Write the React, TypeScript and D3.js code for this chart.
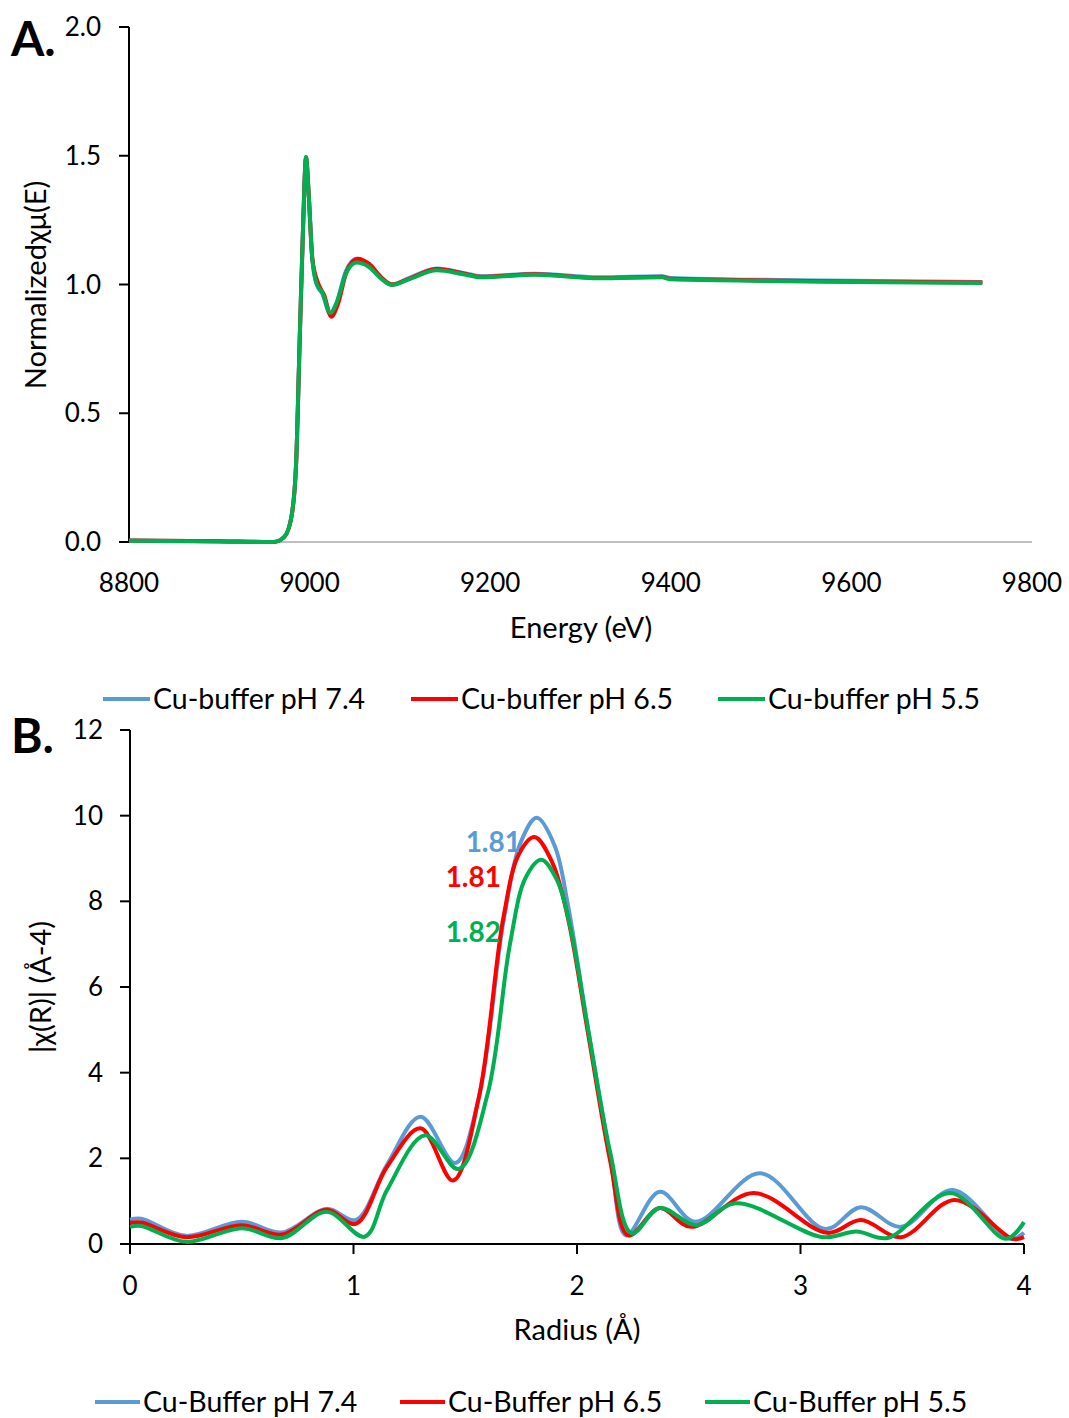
import React from "react";
import * as d3 from "d3";

const FONT = "Lato, 'Open Sans', sans-serif";

// Panel A: XANES (energy eV, normalized value)
const xanesBlue: [number, number][] = [
  [8800, 0.006], [8900, 0.003], [8960, 0.0], [8972, 0.02], [8980, 0.1], [8985, 0.3], [8989, 0.78],
  [8993, 1.25], [8996, 1.495], [8999, 1.35], [9003, 1.1], [9008, 1.0], [9014, 0.965], [9023, 0.885],
  [9030, 0.93], [9040, 1.05], [9052, 1.1], [9065, 1.08], [9080, 1.025], [9091, 1.0], [9110, 1.025],
  [9141, 1.062], [9170, 1.045], [9190, 1.032], [9250, 1.042], [9320, 1.028], [9390, 1.032], [9400, 1.025],
  [9500, 1.018], [9600, 1.015], [9745, 1.01],
];
const xanesRed: [number, number][] = [
  [8800, 0.006], [8900, 0.003], [8960, 0.0], [8972, 0.02], [8980, 0.1], [8985, 0.3], [8989, 0.78],
  [8993, 1.25], [8996, 1.49], [8999, 1.35], [9003, 1.1], [9010, 1.0], [9016, 0.96], [9024, 0.875],
  [9031, 0.92], [9041, 1.05], [9053, 1.1], [9066, 1.08], [9080, 1.025], [9091, 1.0], [9110, 1.022],
  [9141, 1.06], [9170, 1.043], [9190, 1.03], [9250, 1.04], [9320, 1.025], [9390, 1.03], [9400, 1.022],
  [9500, 1.016], [9600, 1.012], [9745, 1.008],
];
const xanesGreen: [number, number][] = [
  [8800, 0.005], [8900, 0.002], [8960, 0.0], [8972, 0.02], [8980, 0.1], [8985, 0.3], [8989, 0.78],
  [8993, 1.25], [8996, 1.495], [8999, 1.35], [9003, 1.1], [9008, 1.0], [9014, 0.97], [9023, 0.89],
  [9030, 0.93], [9040, 1.04], [9052, 1.085], [9065, 1.07], [9080, 1.02], [9091, 0.998], [9110, 1.02],
  [9141, 1.055], [9170, 1.04], [9190, 1.028], [9250, 1.038], [9320, 1.024], [9390, 1.028], [9400, 1.02],
  [9500, 1.014], [9600, 1.01], [9745, 1.006],
];

// Panel B: FT magnitude (radius Å, |χ(R)|)
const ftBlue: [number, number][] = [
  [0, 0.57], [0.05, 0.59], [0.25, 0.19], [0.5, 0.52], [0.68, 0.27], [0.88, 0.82], [1.01, 0.56],
  [1.15, 1.85], [1.3, 2.97], [1.455, 1.89], [1.56, 3.4], [1.67, 7.5], [1.75, 9.4], [1.82, 9.95],
  [1.9, 9.3], [1.96, 7.9], [2.05, 5.0], [2.15, 2.0], [2.22, 0.2], [2.37, 1.22], [2.53, 0.52],
  [2.82, 1.65], [3.11, 0.35], [3.27, 0.86], [3.45, 0.4], [3.68, 1.26], [3.94, 0.12], [4.0, 0.26],
];
const ftRed: [number, number][] = [
  [0, 0.49], [0.05, 0.5], [0.25, 0.16], [0.5, 0.44], [0.68, 0.22], [0.88, 0.8], [1.01, 0.47],
  [1.15, 1.8], [1.3, 2.7], [1.445, 1.48], [1.56, 3.4], [1.67, 7.6], [1.74, 9.1], [1.81, 9.5],
  [1.89, 8.9], [1.96, 7.6], [2.05, 4.9], [2.15, 1.9], [2.23, 0.2], [2.37, 0.84], [2.51, 0.4],
  [2.79, 1.19], [3.12, 0.26], [3.27, 0.56], [3.45, 0.16], [3.69, 1.03], [3.95, 0.12], [4.0, 0.16],
];
const ftGreen: [number, number][] = [
  [0, 0.4], [0.05, 0.42], [0.25, 0.05], [0.5, 0.37], [0.68, 0.14], [0.88, 0.75], [1.05, 0.17],
  [1.15, 1.26], [1.32, 2.54], [1.47, 1.75], [1.6, 3.5], [1.7, 7.0], [1.77, 8.55], [1.84, 8.97],
  [1.91, 8.5], [1.97, 7.4], [2.05, 5.0], [2.15, 2.1], [2.245, 0.25], [2.37, 0.84], [2.535, 0.44], [2.71, 0.95],
  [3.1, 0.16], [3.25, 0.29], [3.39, 0.14], [3.67, 1.19], [3.92, 0.12], [4.0, 0.51],
];

const xTicksA = [8800, 9000, 9200, 9400, 9600, 9800];
const yTicksA = [0, 0.5, 1.0, 1.5, 2.0];
const xTicksB = [0, 1, 2, 3, 4];
const yTicksB = [0, 2, 4, 6, 8, 10, 12];

const colors = ["#5b9bd5", "#ff0000", "#00b050"];
const legendA = ["Cu-buffer pH 7.4", "Cu-buffer pH 6.5", "Cu-buffer pH 5.5"];
const legendB = ["Cu-Buffer pH 7.4", "Cu-Buffer pH 6.5", "Cu-Buffer pH 5.5"];
const peakLabels = ["1.81", "1.81", "1.82"];

export default function App() {
  const xA = d3.scaleLinear().domain([8800, 9800]).range([129, 1032]);
  const yA = d3.scaleLinear().domain([0, 2]).range([542, 27]);
  const xB = d3.scaleLinear().domain([0, 4]).range([130, 1024]);
  const yB = d3.scaleLinear().domain([0, 12]).range([1244, 730]);

  const lineA = d3.line<[number, number]>().x((d) => xA(d[0])).y((d) => yA(d[1])).curve(d3.curveMonotoneX);
  const lineB = d3.line<[number, number]>().x((d) => xB(d[0])).y((d) => yB(d[1])).curve(d3.curveCatmullRom.alpha(0.5));

  const seriesA = [xanesBlue, xanesRed, xanesGreen];
  const seriesB = [ftBlue, ftRed, ftGreen];

  const legAPos = [103, 411, 718];
  const legBPos = [95, 400, 705];
  const labelPos: [number, number][] = [
    [521, 852],
    [501, 887],
    [501, 942],
  ];

  const tickFs = 26;
  const titleFs = 29;
  const legFs = 28.5;

  return (
    <svg width={1069} height={1418} style={{ position: "absolute", left: 0, top: 0, background: "#fff" }} fontFamily={FONT}>
      <rect width={1069} height={1418} fill="#fff" />
      {/* Panel A */}
      <text x={11} y={56} fontSize={48} fontWeight="bold" fill="#000">A.</text>
      <line x1={xA(8800)} x2={xA(9800)} y1={yA(0)} y2={yA(0)} stroke="#bfbfbf" strokeWidth={2} />
      <line x1={xA(8800)} x2={xA(8800)} y1={yA(0)} y2={yA(2)} stroke="#000" strokeWidth={2} />
      {yTicksA.map((t) => (
        <g key={"ya" + t}>
          <line x1={xA(8800) - 10} x2={xA(8800)} y1={yA(t)} y2={yA(t)} stroke="#000" strokeWidth={2} />
          <text x={101} y={yA(t) + 9} fontSize={tickFs} textAnchor="end" fill="#000">{t.toFixed(1)}</text>
        </g>
      ))}
      {xTicksA.map((t) => (
        <text key={"xa" + t} x={xA(t)} y={592} fontSize={tickFs} textAnchor="middle" fill="#000">{t}</text>
      ))}
      <text x={581} y={638} fontSize={titleFs} textAnchor="middle" fill="#000">Energy (eV)</text>
      <text transform="translate(46,285) rotate(-90)" fontSize={titleFs} textAnchor="middle" fill="#000">Normalizedχμ(E)</text>
      {seriesA.map((s, i) => (
        <path key={"sa" + i} d={lineA(s) || ""} fill="none" stroke={colors[i]} strokeWidth={4} strokeLinejoin="round" />
      ))}
      {legendA.map((l, i) => (
        <g key={"la" + i}>
          <line x1={legAPos[i]} x2={legAPos[i] + 47} y1={699} y2={699} stroke={colors[i]} strokeWidth={4} />
          <text x={legAPos[i] + 50} y={709} fontSize={legFs} fill="#000">{l}</text>
        </g>
      ))}

      {/* Panel B */}
      <text x={11} y={753} fontSize={48} fontWeight="bold" fill="#000">B.</text>
      <line x1={xB(0)} x2={xB(4)} y1={yB(0)} y2={yB(0)} stroke="#000" strokeWidth={2} />
      <line x1={xB(0)} x2={xB(0)} y1={yB(0)} y2={yB(12)} stroke="#000" strokeWidth={2} />
      {yTicksB.map((t) => (
        <g key={"yb" + t}>
          <line x1={xB(0) - 10} x2={xB(0)} y1={yB(t)} y2={yB(t)} stroke="#000" strokeWidth={2} />
          <text x={103} y={yB(t) + 9} fontSize={tickFs} textAnchor="end" fill="#000">{t}</text>
        </g>
      ))}
      {xTicksB.map((t) => (
        <g key={"xb" + t}>
          <line x1={xB(t)} x2={xB(t)} y1={yB(0)} y2={yB(0) + 10} stroke="#000" strokeWidth={2} />
          <text x={xB(t)} y={1295} fontSize={tickFs} textAnchor="middle" fill="#000">{t}</text>
        </g>
      ))}
      <text x={577} y={1340} fontSize={titleFs} textAnchor="middle" fill="#000">Radius (Å)</text>
      <text transform="translate(51,987) rotate(-90)" fontSize={titleFs} textAnchor="middle" fill="#000">|χ(R)| (Å-4)</text>
      {seriesB.map((s, i) => (
        <path key={"sb" + i} d={lineB(s) || ""} fill="none" stroke={colors[i]} strokeWidth={4} strokeLinejoin="round" />
      ))}
      {peakLabels.map((l, i) => (
        <text key={"pl" + i} x={labelPos[i][0]} y={labelPos[i][1]} fontSize={28} fontWeight="bold" textAnchor="end" fill={colors[i]}>{l}</text>
      ))}
      {legendB.map((l, i) => (
        <g key={"lb" + i}>
          <line x1={legBPos[i]} x2={legBPos[i] + 45} y1={1402} y2={1402} stroke={colors[i]} strokeWidth={4} />
          <text x={legBPos[i] + 48} y={1412} fontSize={legFs} fill="#000">{l}</text>
        </g>
      ))}
    </svg>
  );
}
